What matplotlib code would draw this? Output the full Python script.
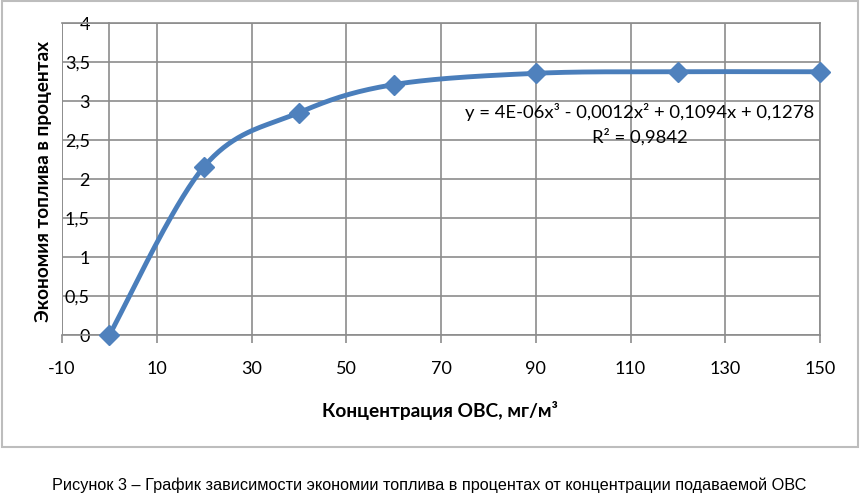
import numpy as np
import matplotlib
matplotlib.use('Agg')
import matplotlib.pyplot as plt
from matplotlib.patches import Rectangle
from matplotlib.ticker import FuncFormatter

# данные графика
conc = [0, 20, 40, 60, 90, 120, 150]
economy = [0.0, 2.16, 2.85, 3.21, 3.355, 3.375, 3.375]
x_ticks = [-10, 10, 30, 50, 70, 90, 110, 130, 150]
y_ticks = [0, 0.5, 1, 1.5, 2, 2.5, 3, 3.5, 4]

eq_text = 'y = 4E-06x³ - 0,0012x² + 0,1094x + 0,1278'
r2_text = 'R² = 0,9842'
x_label = 'Концентрация ОВС, мг/м³'
y_label = 'Экономия топлива в процентах'
caption = 'Рисунок 3 – График зависимости экономии топлива в процентах от концентрации подаваемой ОВС'

W, H = 860, 496
x_min, x_max = -10, 150
y_min, y_max = 0, 4

line_color = '#4A7EBB'
grid_color = '#8c8c8c'
main_font = ['Lato', 'DejaVu Sans']


def smooth_line(xs, ys, n=40):
    """Сглаживание как в Excel (кривые Безье по точкам), в нормированных координатах"""
    px = (np.array(xs, float) - x_min) / (x_max - x_min) * 758
    py = (np.array(ys, float) - y_min) / (y_max - y_min) * 312
    pts = np.column_stack([px, py])
    out = []
    for i in range(len(pts) - 1):
        p0 = pts[i - 1] if i > 0 else pts[i]
        p1 = pts[i]
        p2 = pts[i + 1]
        p3 = pts[i + 2] if i + 2 < len(pts) else pts[i + 1]
        c1 = p1 + (p2 - p0) / 6
        c2 = p2 - (p3 - p1) / 6
        t = np.linspace(0, 1, n)[:, None]
        seg = ((1 - t) ** 3) * p1 + 3 * ((1 - t) ** 2) * t * c1 + 3 * (1 - t) * t ** 2 * c2 + t ** 3 * p2
        out.append(seg if i == 0 else seg[1:])
    curve = np.vstack(out)
    cx = curve[:, 0] / 758 * (x_max - x_min) + x_min
    cy = curve[:, 1] / 312 * (y_max - y_min) + y_min
    return cx, cy


fig = plt.figure(figsize=(W / 100, H / 100), dpi=100)
ax = fig.add_axes([62 / W, 1 - 335 / H, (820 - 62) / W, (335 - 23) / H])

ax.set_xlim(x_min, x_max)
ax.set_ylim(y_min, y_max)
ax.set_xticks(x_ticks)
ax.set_yticks(y_ticks)
ax.grid(True, color=grid_color, linewidth=1.2)
ax.set_axisbelow(True)

for s in ['top', 'right', 'bottom', 'left']:
    ax.spines[s].set_color(grid_color)
    ax.spines[s].set_linewidth(1.2)
ax.spines['left'].set_position(('data', 0))
ax.axvline(x_min, color=grid_color, linewidth=1.2, zorder=0)

fmt = FuncFormatter(lambda v, p: ('%g' % v).replace('.', ','))
ax.yaxis.set_major_formatter(fmt)
ax.xaxis.set_major_formatter(fmt)
ax.tick_params(axis='x', length=6, width=1.2, color=grid_color, pad=13, labelsize=13)
ax.tick_params(axis='y', length=0, pad=14, labelsize=13)
for lbl in ax.get_xticklabels() + ax.get_yticklabels():
    lbl.set_family(main_font)

cx, cy = smooth_line(conc, economy)
ax.plot(cx, cy, color=line_color, linewidth=3.5, solid_capstyle='round', zorder=3, clip_on=False)
ax.plot(conc, economy, linestyle='none', marker='D', markersize=10, color='#4F81BD', zorder=4, clip_on=False)

fig.text(640 / W, 1 - 112 / H, eq_text, ha='center', va='center', fontsize=13.3, family=main_font)
fig.text(640 / W, 1 - 137 / H, r2_text, ha='center', va='center', fontsize=13.3, family=main_font)

fig.text(440 / W, 1 - 410 / H, x_label, ha='center', va='center', fontsize=13.8,
         fontweight='bold', family=main_font)
fig.text(44 / W, 1 - 182 / H, y_label, ha='center', va='center', rotation=90, fontsize=13.7,
         fontweight='bold', family=main_font)

fig.text(429 / W, 1 - 485 / H, caption, ha='center', va='center', fontsize=11.7,
         family=['Liberation Sans', 'DejaVu Sans'])

fig.patches.append(Rectangle((2 / W, 1 - 447 / H), 856 / W, 446 / H, transform=fig.transFigure,
                             fill=False, edgecolor='#bdbdbd', linewidth=1.5))

fig.savefig('out.png', dpi=100)
